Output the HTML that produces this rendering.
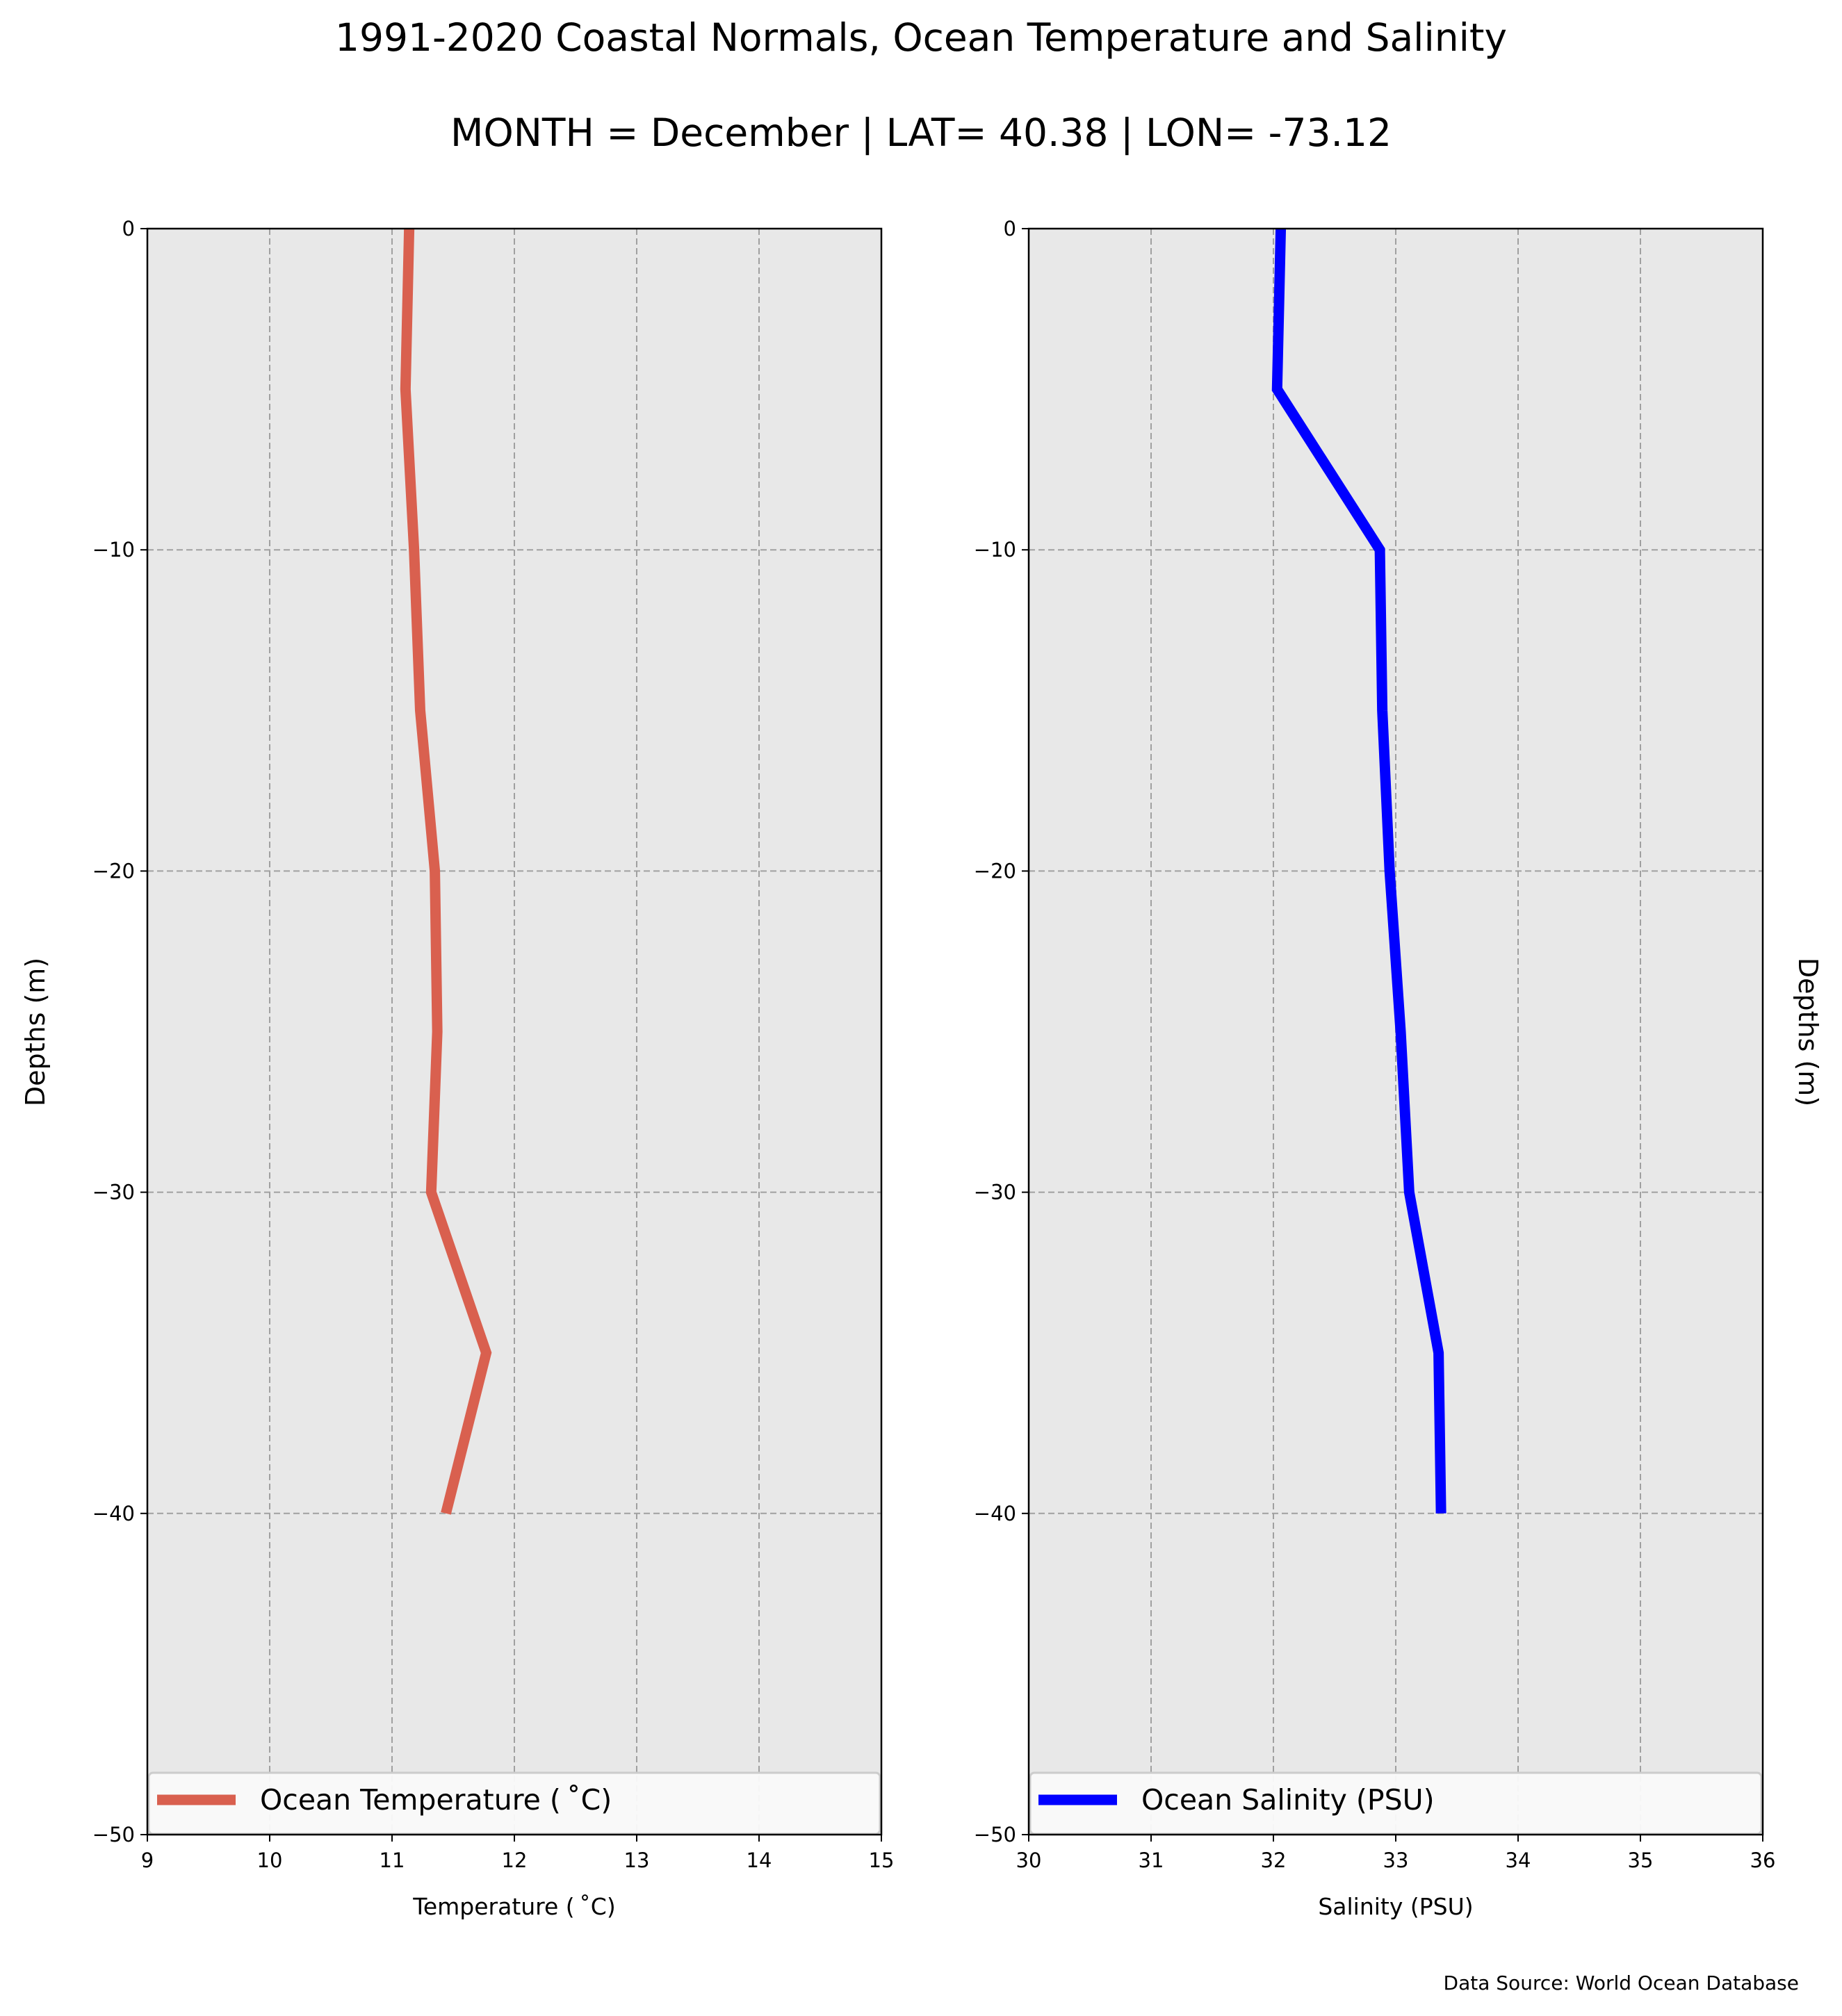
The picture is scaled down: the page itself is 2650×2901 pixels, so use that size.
<!DOCTYPE html>
<html><head><meta charset="utf-8"><style>
html,body{margin:0;padding:0;background:#fff}
svg{display:block;font-family:"DejaVu Sans","Liberation Sans",sans-serif}
</style></head><body>
<svg id="chart" width="2650" height="2901" viewBox="0 0 2650 2901" xmlns="http://www.w3.org/2000/svg">
<text x="1325" y="73" font-size="55" text-anchor="middle">1991-2020 Coastal Normals, Ocean Temperature and Salinity</text>
<text x="1325" y="210" font-size="55" text-anchor="middle">MONTH = December | LAT= 40.38 | LON= -73.12</text>
<text x="2588" y="2863" font-size="28" text-anchor="end">Data Source: World Ocean Database</text>
<g id="p1"></g>
<g id="p2"></g>
</svg>
<script>
const depths = [0, -5, -10, -15, -20, -25, -30, -35, -40];
const temperature = [11.14, 11.11, 11.18, 11.23, 11.35, 11.37, 11.32, 11.77, 11.44];
const salinity = [32.06, 32.03, 32.87, 32.89, 32.95, 33.04, 33.11, 33.35, 33.37];
const yTicks = [0, -10, -20, -30, -40, -50];
const tempTicks = [9, 10, 11, 12, 13, 14, 15];
const salTicks = [30, 31, 32, 33, 34, 35, 36];
const NS = "http://www.w3.org/2000/svg";
function mk(parent, tag, attrs, text) {
  const e = document.createElementNS(NS, tag);
  for (const k in attrs) e.setAttribute(k, attrs[k]);
  if (text !== undefined) e.textContent = text;
  parent.appendChild(e);
  return e;
}
const top0 = 329, bot = 2640;
function yScale(d) { return top0 + (0 - d) / 50 * (bot - top0); }
function panel(g, x0, x1, xmin, xmax, ticks, vals, color, label, xlabel, key, rightLabel) {
  const xs = v => x0 + (v - xmin) / (xmax - xmin) * (x1 - x0);
  const bg = mk(g, 'rect', {x: x0, y: top0, width: x1 - x0, height: bot - top0, fill: '#e8e8e8'});
  
  
  ticks.forEach(t => {
    const gl = mk(g, 'line', {x1: xs(t), x2: xs(t), y1: top0, y2: bot, stroke: '#a0a0a0', 'stroke-width': 2, 'stroke-dasharray': '9,5'});
    
    
    const tk = mk(g, 'line', {x1: xs(t), x2: xs(t), y1: bot, y2: bot + 10, stroke: '#000', 'stroke-width': 2});
    
    
    const tl = mk(g, 'text', {x: xs(t), y: bot + 47, 'font-size': 29, 'text-anchor': 'middle'}, String(t));
    
    
  });
  yTicks.forEach(t => {
    const gl = mk(g, 'line', {x1: x0, x2: x1, y1: yScale(t), y2: yScale(t), stroke: '#a0a0a0', 'stroke-width': 2, 'stroke-dasharray': '9,5'});
    
    
    const tk = mk(g, 'line', {x1: x0 - 10, x2: x0, y1: yScale(t), y2: yScale(t), stroke: '#000', 'stroke-width': 2});
    
    
    const tl = mk(g, 'text', {x: x0 - 18, y: yScale(t) + 10, 'font-size': 29, 'text-anchor': 'end'}, t < 0 ? '\u2212' + (-t) : String(t));
    
    
  });
  const pts = vals.map((v, i) => xs(v) + ',' + yScale(depths[i])).join(' ');
  const ln = mk(g, 'polyline', {points: pts, fill: 'none', stroke: color, 'stroke-width': 15, 'stroke-linejoin': 'miter'});
  
  
  const lg = mk(g, 'g', {});
  
  
  mk(lg, 'rect', {x: x0 + 2, y: 2551, width: x1 - x0 - 4, height: 88, rx: 6, fill: '#fafafa', 'fill-opacity': 0.95, stroke: '#cccccc', 'stroke-width': 3});
  mk(lg, 'line', {x1: x0 + 14, x2: x0 + 127, y1: 2590, y2: 2590, stroke: color, 'stroke-width': 15});
  mk(lg, 'text', {x: x0 + 162, y: 2604, 'font-size': 41}, label);
  const fr = mk(g, 'rect', {x: x0, y: top0, width: x1 - x0, height: bot - top0, fill: 'none', stroke: '#000', 'stroke-width': 2.5});
  
  
  const xl = mk(g, 'text', {x: (x0 + x1) / 2, y: 2755, 'font-size': 33, 'text-anchor': 'middle'}, xlabel);
  
  
}
panel(document.getElementById('p1'), 212, 1268, 9, 15, tempTicks, temperature, '#d9604f', 'Ocean Temperature (\u2009\u02DAC)', 'Temperature (\u2009\u02DAC)', 'temperature');
panel(document.getElementById('p2'), 1480, 2536, 30, 36, salTicks, salinity, '#0000ff', 'Ocean Salinity (PSU)', 'Salinity (PSU)', 'salinity');
const svg = document.getElementById('chart');
const yl = mk(svg, 'text', {x: 0, y: 0, 'font-size': 38, 'text-anchor': 'middle', transform: 'translate(64,1485) rotate(-90)'}, 'Depths (m)');


const yr = mk(svg, 'text', {x: 0, y: 0, 'font-size': 38, 'text-anchor': 'middle', transform: 'translate(2588,1485) rotate(90)'}, 'Depths (m)');


</script>
</body></html>
